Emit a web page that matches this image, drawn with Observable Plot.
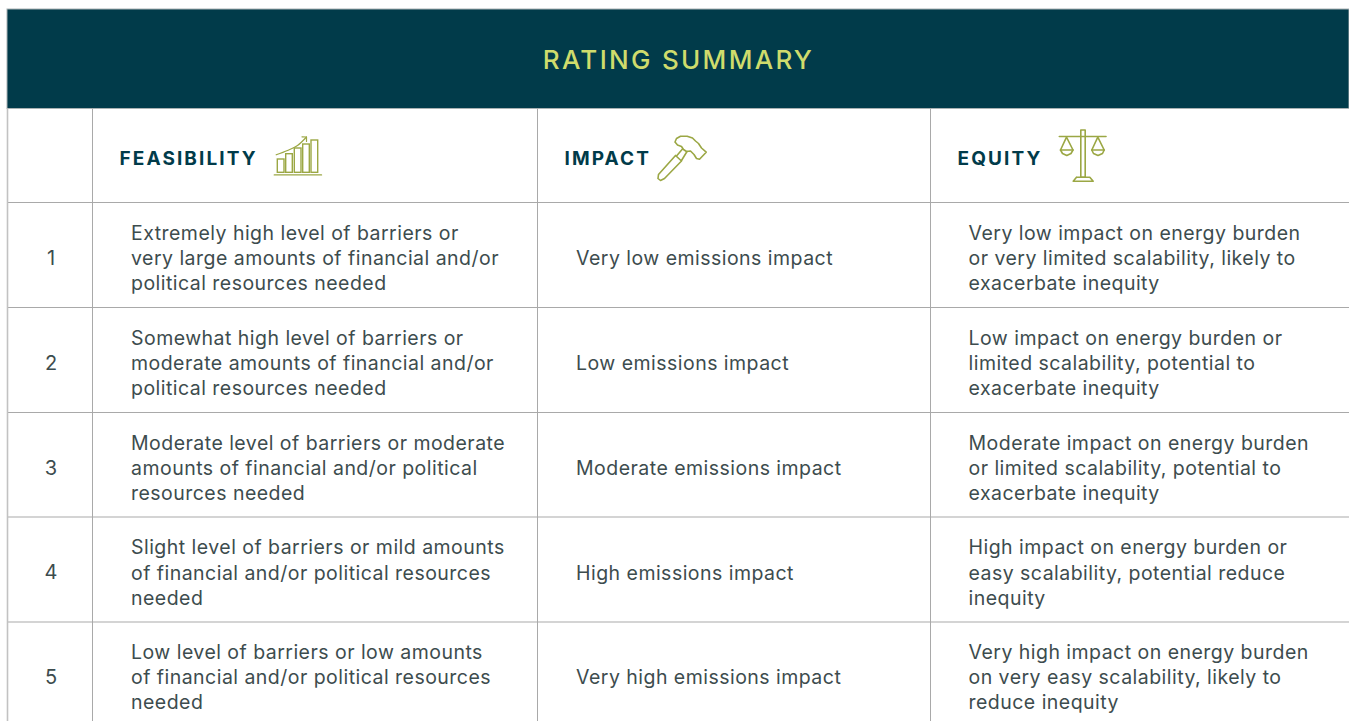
<!DOCTYPE html>
<html><head><meta charset="utf-8">
<script src="https://cdn.jsdelivr.net/npm/d3@7"></script>
<script src="https://cdn.jsdelivr.net/npm/@observablehq/plot@0.6"></script>
<style>html,body{margin:0;padding:0;background:#fff;overflow:hidden}svg{display:block}
.ttl text,.ttl{letter-spacing:2.3px}
.hd text,.hd{letter-spacing:2.1px}
.bd text,.bd{letter-spacing:.47px}
</style>
</head><body><div id="c"></div>
<script>
const title = "RATING SUMMARY";
const ratings = ["1","2","3","4","5"];
const headers = ["FEASIBILITY","IMPACT","EQUITY"];
const feasibility = [
"Extremely high level of barriers or\nvery large amounts of financial and/or\npolitical resources needed",
"Somewhat high level of barriers or\nmoderate amounts of financial and/or\npolitical resources needed",
"Moderate level of barriers or moderate\namounts of financial and/or political\nresources needed",
"Slight level of barriers or mild amounts\nof financial and/or political resources\nneeded",
"Low level of barriers or low amounts\nof financial and/or political resources\nneeded"];
const impact = ["Very low emissions impact","Low emissions impact","Moderate emissions impact","High emissions impact","Very high emissions impact"];
const equity = [
"Very low impact on energy burden\nor very limited scalability, likely to\nexacerbate inequity",
"Low impact on energy burden or\nlimited scalability, potential to\nexacerbate inequity",
"Moderate impact on energy burden\nor limited scalability, potential to\nexacerbate inequity",
"High impact on energy burden or\neasy scalability, potential reduce\ninequity",
"Very high impact on energy burden\non very easy scalability, likely to\nreduce inequity"];
const colX = [7,92,537,930];
const rowY = [202,307,412,516.5,621.5];
const rowMid = [258,363,468,572.5,677];
const textX = [130.5,575.5,968];
const headX = [119,564,957];
const ink = "#3d4c4e", navy = "#013b4a", olive = "#9ba744";

const body = [];
[feasibility,impact,equity].forEach((col,c)=>col.forEach((t,i)=>body.push({x:textX[c],y:rowMid[i]-1.5,t})));

// header icons
const chartBars = [[277.3,284,159],[285.7,292.3,153.7],[294.3,301,148],[302.7,309.3,144],[311,317.7,140]];
const chartFloor = [[273.8,174.4],[321,174.4]];
const chartArrow = [[275.7,154.3],[287,150],[297,145],[306,136.5]];
const chartHead = [[301.5,136.3],[306,136.5],[306,141]];
const hammerHead = [[674.5,141.5],[676,138],[680,135.8],[686.7,135.7],[692,137.5],[695,140.5],[698,143],[701,147.5],[705.7,151.7],[699,158.8],[696,158],[693.5,154],[690,150.5],[686,151],[683,149],[681,146],[677,144.5],[674.5,141.5]];
const hammerNeck1 = [[682,148.5],[676,155.5]];
const hammerNeck2 = [[686.5,151],[681,160]];
const hammerGrip = [[675,155],[681,160.5],[664,178],[660,180],[657.5,178],[658,174],[675,155]];
const beam = [[1058.8,136],[1105.5,136]];
const post = [[1080.3,129.5],[1084.7,129.5],[1084.7,176.7],[1080.3,176.7],[1080.3,129.5]];
const foot = [[1076,176.7],[1089.3,176.7],[1092.7,180.7],[1072.7,180.7],[1076,176.7]];
const panL = [[1060,149.5],[1066,136.7],[1072.5,149.5],[1060,149.5]];
const bowlL = [[1060,149.5],[1062,153],[1066.3,155],[1070.5,153],[1072.5,149.5]];
const panR = [[1091.3,149.5],[1097.3,136.7],[1103.7,149.5],[1091.3,149.5]];
const bowlR = [[1091.3,149.5],[1093,153],[1097.5,155],[1102,153],[1103.7,149.5]];
const iconLine = (pts,w=1.6,curve="linear")=>Plot.line(pts,{x:d=>d[0],y:d=>d[1],stroke:olive,strokeWidth:w,curve,strokeLinejoin:"round",strokeLinecap:"round"});

const plot = Plot.plot({
  width:1349,height:721,margin:0,
  x:{domain:[0,1349],range:[0,1349],axis:null},
  y:{domain:[0,721],range:[0,721],axis:null},
  style:{background:"#fff",fontFamily:"Inter, Lato, sans-serif"},
  marks:[
    Plot.rect([{x1:7,x2:1349,y1:9,y2:108.5}],{x1:"x1",x2:"x2",y1:"y1",y2:"y2",fill:navy,stroke:"#a9b1b3",strokeWidth:1}),
    Plot.ruleY(rowY,{x1:7,x2:1349,stroke:"#a9a9a9",strokeWidth:1}),
    Plot.ruleX(colX.slice(1),{y1:108.5,y2:721,stroke:"#a9a9a9",strokeWidth:1}),
    Plot.ruleX(colX.slice(0,1),{y1:108.5,y2:721,stroke:"#c2c2c2",strokeWidth:1.6}),
    Plot.text([title],{x:678,y:60,text:d=>d,fill:"#cfdc6c",fontSize:26,fontWeight:500,textAnchor:"middle",className:"ttl"}),
    Plot.text(headers,{x:(d,i)=>headX[i],y:158.5,text:d=>d,fill:navy,fontSize:19,fontWeight:700,textAnchor:"start",className:"hd"}),
    Plot.text(ratings,{x:50.5,y:(d,i)=>rowMid[i],text:d=>d,fill:ink,fontSize:20,textAnchor:"middle"}),
    Plot.text(body,{x:"x",y:"y",text:"t",fill:ink,fontSize:19.5,lineHeight:1.3,textAnchor:"start",className:"bd"}),
    Plot.rect(chartBars,{x1:d=>d[0],x2:d=>d[1],y1:d=>d[2],y2:172.3,fill:"none",stroke:olive,strokeWidth:1.4}),
    iconLine(chartFloor,1.4),iconLine(chartArrow,1.2,"catmull-rom"),iconLine(chartHead,1.2),
    iconLine(hammerHead),iconLine(hammerNeck1),iconLine(hammerNeck2),iconLine(hammerGrip),
    iconLine(beam),iconLine(post),iconLine(foot),iconLine(panL),iconLine(bowlL),iconLine(panR),iconLine(bowlR)
  ]
});
document.getElementById("c").appendChild(plot);
</script></body></html>
